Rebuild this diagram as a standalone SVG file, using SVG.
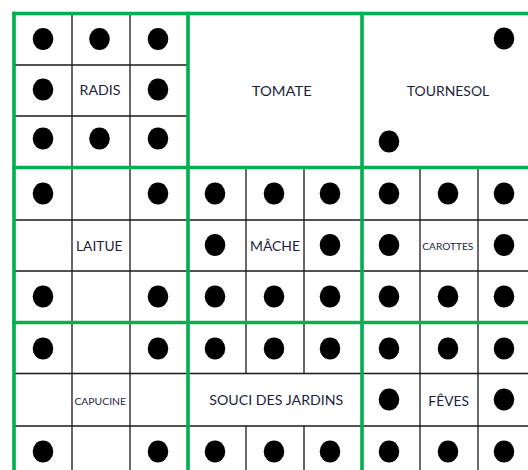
<svg xmlns="http://www.w3.org/2000/svg" width="528" height="470" viewBox="0 0 528 470">
<style>
.thin{stroke:#1a1a1a;stroke-width:1.3;fill:none}
.green{stroke:#00B050;stroke-width:3.6;fill:none}
.lbl{font-family:Lato,"Liberation Sans",sans-serif;font-size:13px;fill:#1e1e3c;text-anchor:middle}
.sm{font-size:10px}
</style>
<defs>
<ellipse id="d" cx="0" cy="0" rx="10.3" ry="11" fill="#000"/>
</defs>
<rect width="528" height="470" fill="#fff"/>
<g id="thin-grid" class="thin">
<path d="M72 13.5V470M130 13.5V470"/>
<path d="M246 167.5V373.5M304 167.5V373.5M246 426V470M304 426V470"/>
<path d="M420 167.5V470M478 167.5V470"/>
<path d="M14 65H188M14 116H188"/>
<path d="M14 220H528M14 271H528M14 373.5H528M14 426H528"/>
</g>
<g id="radis">
<use href="#d" x="43" y="39"/><use href="#d" x="99.5" y="39"/><use href="#d" x="158" y="39"/>
<use href="#d" x="43" y="89.5"/><use href="#d" x="158" y="89.5"/>
<use href="#d" x="43" y="138.5"/><use href="#d" x="99.5" y="138.5"/><use href="#d" x="158" y="138.5"/>
<text class="lbl" x="100" y="95" textLength="41" lengthAdjust="spacingAndGlyphs">RADIS</text>
</g>
<g id="tomate">
<text class="lbl" x="281.7" y="95.5" textLength="60" lengthAdjust="spacingAndGlyphs">TOMATE</text>
</g>
<g id="tournesol">
<use href="#d" x="504" y="38.5"/><use href="#d" x="389" y="141.5"/>
<text class="lbl" x="448" y="95.5" textLength="82.5" lengthAdjust="spacingAndGlyphs">TOURNESOL</text>
</g>
<g id="laitue">
<use href="#d" x="43" y="193.5"/><use href="#d" x="158" y="193.5"/>
<use href="#d" x="43" y="296.5"/><use href="#d" x="158" y="296.5"/>
<text class="lbl" x="99.3" y="251" textLength="46.5" lengthAdjust="spacingAndGlyphs">LAITUE</text>
</g>
<g id="mache">
<use href="#d" x="215" y="193.5"/><use href="#d" x="274" y="193.5"/><use href="#d" x="330" y="193.5"/>
<use href="#d" x="215" y="245"/><use href="#d" x="330" y="245"/>
<use href="#d" x="215" y="296.5"/><use href="#d" x="274" y="296.5"/><use href="#d" x="330" y="296.5"/>
<text class="lbl" x="275" y="251" textLength="50" lengthAdjust="spacingAndGlyphs">MÂCHE</text>
</g>
<g id="carottes">
<use href="#d" x="389" y="193.5"/><use href="#d" x="448" y="193.5"/><use href="#d" x="504" y="193.5"/>
<use href="#d" x="389" y="245"/><use href="#d" x="504" y="245"/>
<use href="#d" x="389" y="296.5"/><use href="#d" x="448" y="296.5"/><use href="#d" x="504" y="296.5"/>
<text class="lbl sm" x="447.8" y="250" textLength="51" lengthAdjust="spacingAndGlyphs">CAROTTES</text>
</g>
<g id="capucine">
<use href="#d" x="43" y="348.5"/><use href="#d" x="158" y="348.5"/>
<use href="#d" x="43" y="451.5"/><use href="#d" x="158" y="451.5"/>
<text class="lbl sm" x="100.2" y="405" textLength="51.5" lengthAdjust="spacingAndGlyphs">CAPUCINE</text>
</g>
<g id="souci-des-jardins">
<use href="#d" x="215" y="348.5"/><use href="#d" x="274" y="348.5"/><use href="#d" x="330" y="348.5"/>
<use href="#d" x="215" y="451.5"/><use href="#d" x="274" y="451.5"/><use href="#d" x="330" y="451.5"/>
<text class="lbl" x="276.3" y="405" textLength="134" lengthAdjust="spacingAndGlyphs">SOUCI DES JARDINS</text>
</g>
<g id="feves">
<use href="#d" x="389" y="348.5"/><use href="#d" x="448" y="348.5"/><use href="#d" x="504" y="348.5"/>
<use href="#d" x="389" y="399.5"/><use href="#d" x="504" y="399.5"/>
<use href="#d" x="389" y="451.5"/><use href="#d" x="448" y="451.5"/><use href="#d" x="504" y="451.5"/>
<text class="lbl" x="448.7" y="405.5" textLength="40.7" lengthAdjust="spacingAndGlyphs">FÊVES</text>
</g>
<g id="connectors"></g>
<g id="beds-border" class="green">
<path d="M14 11.7V470M188 11.7V470M362 11.7V470"/>
<path d="M12.2 13.5H528M12.2 167.5H528M12.2 322.5H528"/>
</g>
</svg>
